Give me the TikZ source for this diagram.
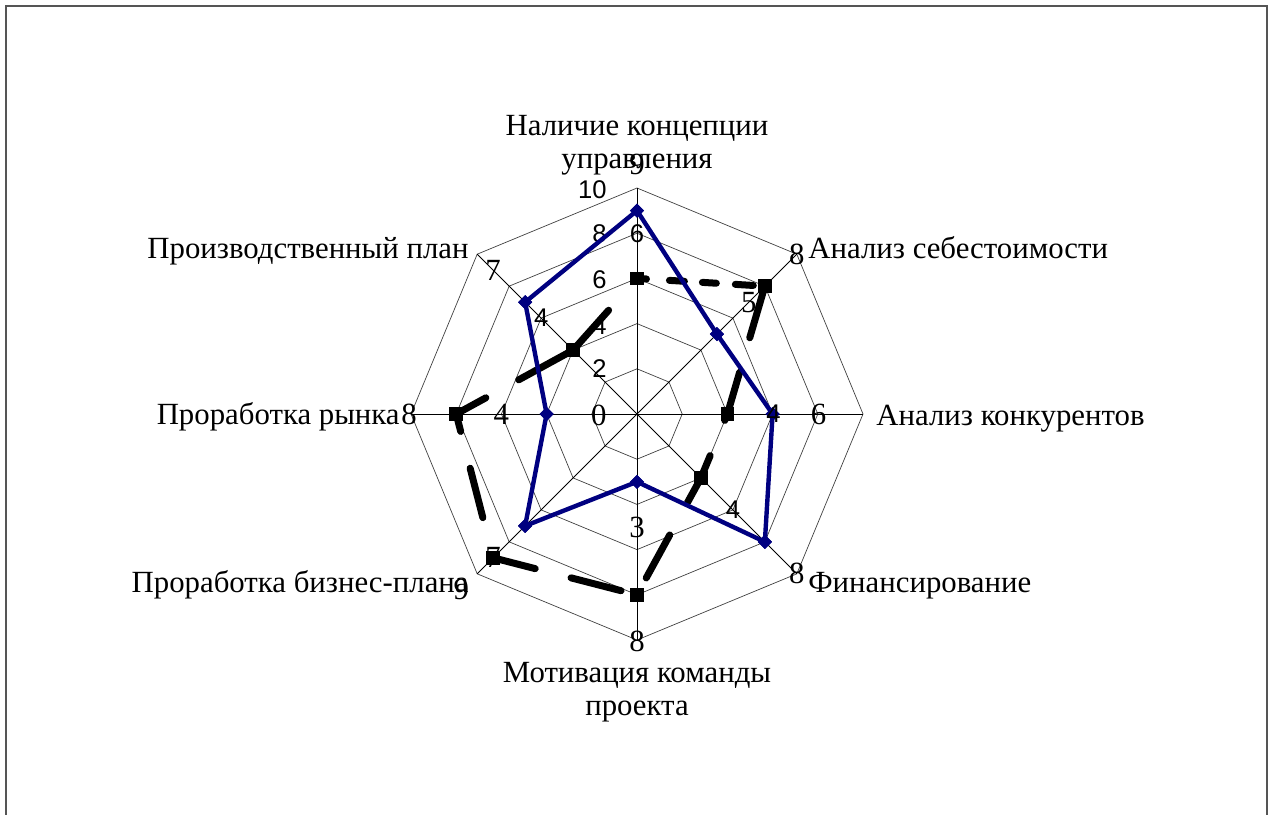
\documentclass[tikz,border=0pt]{standalone}
\usepackage{fontspec}
\setmainfont{Liberation Serif}
\newfontfamily\sansf{Liberation Sans}
\usetikzlibrary{shapes.geometric}
\definecolor{navyb}{RGB}{0,0,128}
\definecolor{framegray}{RGB}{85,85,85}
\begin{document}
\begin{tikzpicture}[x=0.5pt,y=-0.5pt,
  catlabel/.style={font=\fontsize{15.4}{16.5}\selectfont, inner sep=0pt, align=center},
  ticklab/.style={font=\sansf\fontsize{12.8}{14}\selectfont, inner sep=0pt, anchor=east},
  tickser/.style={font=\fontsize{15.4}{16.5}\selectfont, inner sep=0pt, anchor=east},
  dlser/.style={font=\fontsize{15.4}{16.5}\selectfont, inner sep=0pt},
  dlsan/.style={font=\sansf\fontsize{12.8}{14}\selectfont, inner sep=0pt},
  gridring/.style={draw=black!75, line width=0.35pt},
  spoke/.style={draw=black, line width=0.4pt},
  blueline/.style={draw=navyb, line width=2.2pt, line join=miter},
  bmark/.style={diamond, aspect=1, fill=navyb, inner sep=0pt, minimum size=7.2pt},
  kmark/.style={rectangle, fill=black, inner sep=0pt, minimum size=6.8pt},
  kseg/.style={draw=black, line width=3.5pt, line cap=round}
]
\useasboundingbox (0,0) rectangle (1272,814);
\draw[framegray, line width=1pt] (5.5,820) -- (5.5,6) -- (1267,6) -- (1267,820);

\begin{scope}[shift={(637,414)}]
  % grid rings
  \foreach \r in {45.2,90.4,135.6,180.8,226}
    \draw[gridring] (-90:\r) -- (-45:\r) -- (0:\r) -- (45:\r) -- (90:\r) -- (135:\r) -- (180:\r) -- (225:\r) -- cycle;
  % spokes
  \foreach \a in {-90,-45,0,45,90,135,180,225}
    \draw[spoke] (0,0) -- (\a:226);
  % axis tick labels
  \node[ticklab] (t10) at (-30,-224) {10};
  \node[ticklab] (t8) at (-30,-180) {8};
  \node[ticklab] (t6) at (-30,-134) {6};
  \node[ticklab] (t4) at (-30,-88) {4};
  \node[ticklab] (t2) at (-30,-45) {2};
  \node[tickser] (t0) at (-30,1) {0};

  % black series markers: 6,8,4,4,8,9,8,4
  \node[kmark] (k1) at (-90:135.6) {};
  \node[kmark] (k2) at (-45:180.8) {};
  \node[kmark] (k3) at (0:90.4) {};
  \node[kmark] (k4) at (45:90.4) {};
  \node[kmark] (k5) at (90:180.8) {};
  \node[kmark] (k6) at (135:203.4) {};
  \node[kmark] (k7) at (180:180.8) {};
  \node[kmark] (k8) at (225:90.4) {};
  % black dashed series
  \draw[kseg, dash pattern=on 4.75pt off 11.5pt on 7.5pt off 9pt on 7pt off 9.5pt on 9pt off 50pt] (k1.center) -- (k2.center);
  \draw[kseg, dash pattern=on 26.9pt off 18pt on 40pt off 10pt] (k2.center) -- (k3.center);
  \draw[kseg, dash pattern=on 3.5pt off 19pt on 20pt off 10pt] (k3.center) -- (k4.center);
  \draw[kseg, dash pattern=on 14pt off 18.5pt on 24.5pt off 30pt] (k4.center) -- (k5.center);
  \draw[kseg, dash pattern=on 0pt off 8.25pt on 25.8pt off 18.5pt on 30pt off 10pt] (k5.center) -- (k6.center);
  \draw[kseg, dash pattern=on 0pt off 20.75pt on 25.5pt off 19pt on 30pt off 10pt] (k6.center) -- (k7.center);
  \draw[kseg, dash pattern=on 16.9pt off 18.7pt on 35pt off 10pt] (k7.center) -- (k8.center);
  \draw[kseg, dash pattern=on 26.7pt off 50pt] (k8.center) -- (k1.center);
  \foreach \n in {k1,k2,k3,k4,k5,k6,k7,k8}
    \node[kmark] at (\n) {};

  % blue series: 9,5,6,8,3,7,4,7
  \node[bmark] (b1) at (-90:203.4) {};
  \node[bmark] (b2) at (-45:113) {};
  \node[bmark] (b3) at (0:135.6) {};
  \node[bmark] (b4) at (45:180.8) {};
  \node[bmark] (b5) at (90:67.8) {};
  \node[bmark] (b6) at (135:158.2) {};
  \node[bmark] (b7) at (180:90.4) {};
  \node[bmark] (b8) at (225:158.2) {};
  \draw[blueline] (b1.center) -- (b2.center) -- (b3.center) -- (b4.center) -- (b5.center) -- (b6.center) -- (b7.center) -- (b8.center) -- cycle;
  \foreach \n in {b1,b2,b3,b4,b5,b6,b7,b8}
    \node[bmark] at (\n) {};

  % data labels
  \node[dlser] (d1a) at (-90:250) {9};
  \node[dlsan] (d1b) at (-90:180.8) {6};
  \node[dlser] (d2a) at (-45:226) {8};
  \node[dlser] (d2b) at (-45:158.2) {5};
  \node[dlser] (d3a) at (0:181.5) {6};
  \node[dlsan] (d3b) at (0:136.5) {4};
  \node[dlsan] (d4a) at (45:135.6) {4};
  \node[dlser] (d4b) at (45:226) {8};
  \node[dlser] (d5a) at (90:113) {3};
  \node[dlser] (d5b) at (90:227) {8};
  \node[dlser] (d6a) at (135:248.6) {9};
  \node[dlser] (d6b) at (135:203.4) {7};
  \node[dlser] (d7a) at (180:135.6) {4};
  \node[dlser] (d7b) at (180:228) {8};
  \node[dlser] (d8a) at (225:203.4) {7};
  \node[dlsan] (d8b) at (225:135.6) {4};
\end{scope}

% category labels
\node[catlabel, anchor=north] (c1) at (637,115) {Наличие концепции\\управления};
\node[catlabel, anchor=base west] (c2) at (808,258) {Анализ себестоимости};
\node[catlabel, anchor=base west] (c3) at (876,425) {Анализ конкурентов};
\node[catlabel, anchor=base west] (c4) at (808,592) {Финансирование};
\node[catlabel, anchor=north] (c5) at (637,662) {Мотивация команды\\проекта};
\node[catlabel, anchor=base east] (c6) at (469,592) {Проработка бизнес-плана};
\node[catlabel, anchor=base east] (c7) at (400,424) {Проработка рынка};
\node[catlabel, anchor=base east] (c8) at (469,258) {Производственный план};
\end{tikzpicture}
\end{document}
